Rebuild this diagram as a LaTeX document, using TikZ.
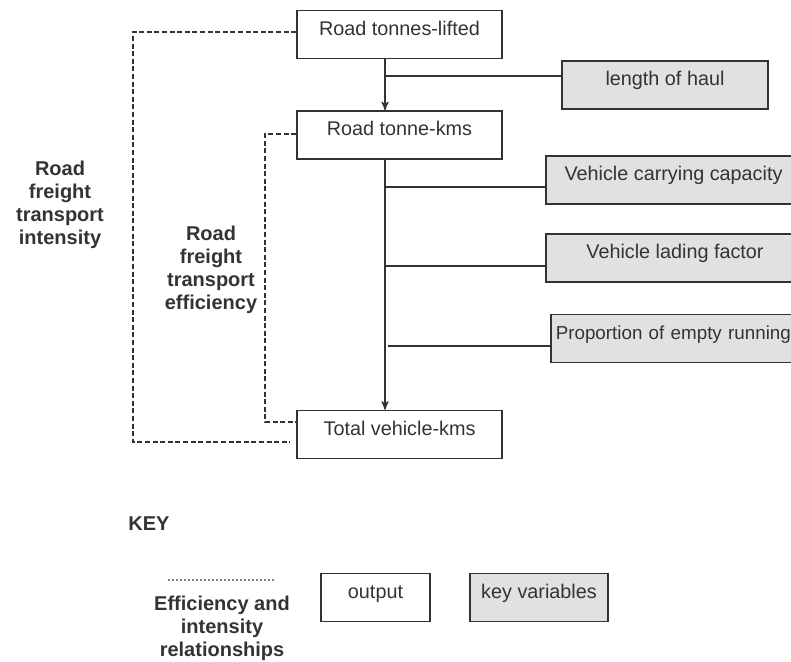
\documentclass[tikz,border=0pt]{standalone}
\usepackage{fontspec}
\setmainfont{Liberation Sans}
\usetikzlibrary{arrows,positioning}
\definecolor{ink}{HTML}{333333}
\definecolor{keygray}{HTML}{E1E1E3}

\begin{document}
\begin{tikzpicture}[x=0.5pt,y=-0.5pt,>=stealth',
    every node/.style={font=\fontsize{9.9}{11.5}\selectfont, text=ink},
    outbox/.style={draw=ink, line width=0.75pt, text height=10.5pt, text depth=9.5pt, inner ysep=2pt, minimum width=102.5pt},
    keybox/.style={outbox, fill=keygray},
    link/.style={draw=ink, line width=0.6pt},
    rel/.style={draw=ink, line width=0.6pt, dash pattern=on 2.5pt off 1.3pt},
    lbl/.style={align=center, font=\fontsize{10}{11.5}\selectfont\bfseries}]
    \clip (0,0) rectangle (791,662);

    % output chain
    \node[outbox] (lifted) at (399.5,34.5) {Road tonnes-lifted};
    \node[outbox] (tkm) [below=25.5pt of lifted] {Road tonne-kms};
    \node[outbox] (vkm) [below=125pt of tkm] {Total vehicle-kms};

    % key variables
    \node[keybox, minimum width=103pt]   (haul)   at (665,85)    {length of haul};
    \node[keybox, minimum width=127.5pt] (cap)    at (673.5,180) {Vehicle carrying capacity};
    \node[keybox, minimum width=129pt]   (lading) at (675,258)   {Vehicle lading factor};
    \node[keybox, anchor=west, text width=130pt, align=left, inner xsep=2.5pt,
          font=\fontsize{9.4}{11.5}\selectfont] (empty) at (550,338.5) {Proportion of empty running};

    \coordinate (spine) at (385,0);
    \coordinate (j1) at (385,76);
    \coordinate (j2) at (385,187);
    \coordinate (j3) at (385,266);
    \coordinate (j4) at (388,346);

    \draw[link,->] (lifted.south -| spine) -- (tkm.north -| spine);
    \draw[link,->] (tkm.south -| spine) -- (vkm.north -| spine);
    \draw[link] (j1) -- (j1 -| haul.west);
    \draw[link] (j2) -- (j2 -| cap.west);
    \draw[link] (j3) -- (j3 -| lading.west);
    \draw[link] (j4) -- (j4 -| empty.west);

    % efficiency and intensity
    \coordinate (outer) at (133,442);
    \coordinate (inner) at (265,422);
    \draw[rel, shorten >=3pt] ([yshift=1.25pt]lifted.west) -| (outer) -- (outer -| vkm.west);
    \draw[rel] ([yshift=0.5pt]tkm.west) -| (inner) -- (inner -| vkm.west);

    \node[lbl] (intens) at (60,205)    {Road\\freight\\transport\\intensity};
    \node[lbl] (effic)  at (211,269.5) {Road\\freight\\transport\\efficiency};

    % key
    \node[lbl, anchor=west, inner xsep=0pt] (key) at (128,524) {KEY};
    \coordinate (d1) at (168,580);
    \coordinate (d2) at (275,580);
    \draw[rel, draw=gray, line width=1pt, dash pattern=on 1pt off 1pt] (d1) -- (d2);
    \node[lbl] (effkey) at (222,628) {Efficiency and\\intensity\\relationships};
    \node[outbox, minimum width=54.5pt] (outkey) at (375.5,597.5) {output};
    \node[keybox, minimum width=69pt]   (varkey) at (539,597.5)   {key variables};
\end{tikzpicture}
\end{document}
